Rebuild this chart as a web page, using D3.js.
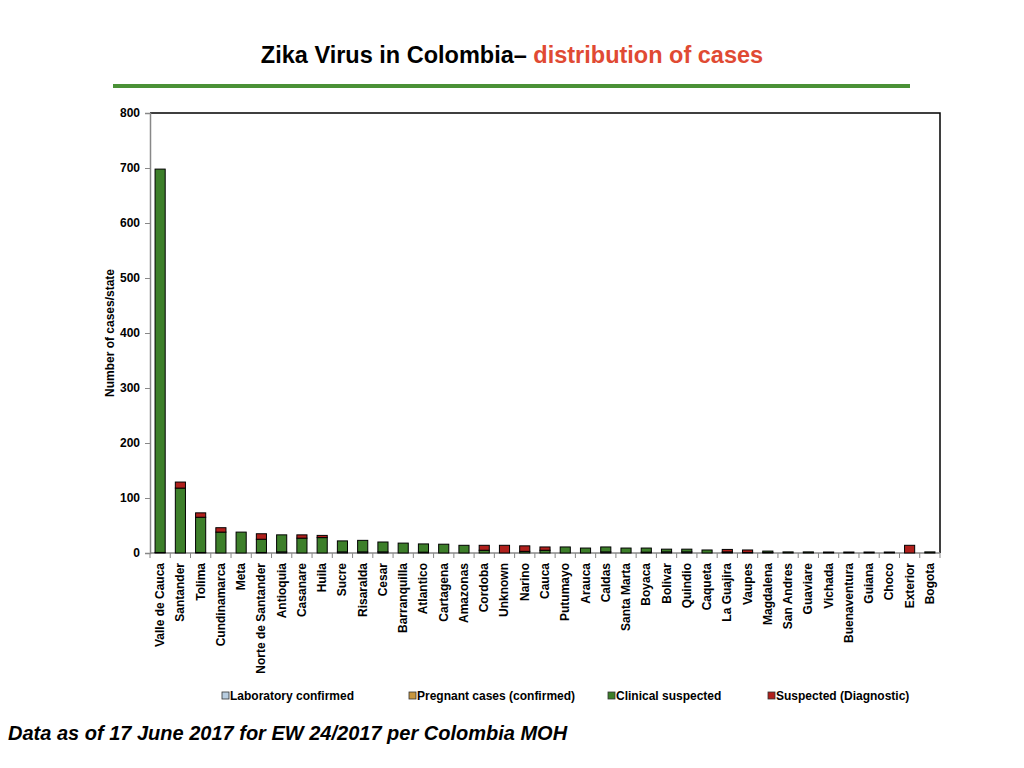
<!DOCTYPE html>
<html>
<head>
<meta charset="utf-8">
<script src="https://cdn.jsdelivr.net/npm/d3@7"></script>
<style>
  body { margin: 0; background: #fff; }
  svg text { font-family: "Liberation Sans", Arial, sans-serif; font-weight: bold; }
</style>
</head>
<body>
<div id="chart"></div>
<script>
// states along the x axis
const states = ["Valle de Cauca", "Santander", "Tolima", "Cundinamarca", "Meta", "Norte de Santander",
  "Antioquia", "Casanare", "Huila", "Sucre", "Risaralda", "Cesar", "Barranquilla", "Atlantico",
  "Cartagena", "Amazonas", "Cordoba", "Unknown", "Narino", "Cauca", "Putumayo", "Arauca", "Caldas",
  "Santa Marta", "Boyaca", "Bolivar", "Quindio", "Caqueta", "La Guajira", "Vaupes", "Magdalena",
  "San Andres", "Guaviare", "Vichada", "Buenaventura", "Guiana", "Choco", "Exterior", "Bogota"];

// series values
const labConfirmed = [1, 0, 1, 0, 0, 1, 2, 0, 0, 2, 2, 2, 0, 1.5, 0, 0, 0, 0, 0, 0, 0, 0, 2,
  0, 1.5, 2, 2, 0, 1, 0, 1, 0, 0, 0, 0, 0, 0, 0, 0];
const pregnant = [0, 0, 0, 0, 0, 0, 0, 0, 0, 0, 0, 0, 0, 0, 0, 0, 0, 0, 0, 0, 0, 0, 0,
  0, 0, 0, 0, 0, 0, 0, 0, 0, 0, 0, 0, 0, 0, 0, 0];
const clinical = [697, 118, 64, 38, 38, 24, 31, 27, 28, 20, 21, 18, 18, 15, 16, 14, 5, 0, 3, 5, 11, 9, 9,
  9, 7.5, 5, 5, 5.5, 1, 1, 2.5, 2, 2, 1.8, 1.8, 1.8, 1.8, 0, 2];
const suspectedDx = [0, 11, 8, 8, 0, 10, 0, 6, 4, 0, 0, 0, 0, 0, 0, 0, 9, 14, 10, 6, 0, 0, 0,
  0, 0, 0, 0, 0, 4.5, 4.5, 0, 0, 0, 0, 0, 0, 0, 14, 0];

const seriesNames = ["Laboratory confirmed", "Pregnant cases (confirmed)", "Clinical suspected", "Suspected (Diagnostic)"];
const seriesColors = ["#b8cde0", "#c8963e", "#3d7f2a", "#b0201c"];
const yTicks = [0, 100, 200, 300, 400, 500, 600, 700, 800];

const width = 1024, height = 768;
const margin = { left: 150, right: 84, top: 113, bottom: 215 };

const svg = d3.select("#chart").append("svg")
  .attr("width", width)
  .attr("height", height);

// title
const title = svg.append("text")
  .attr("x", 512)
  .attr("y", 63)
  .attr("text-anchor", "middle")
  .style("font-size", "23.5px");
title.append("tspan").attr("fill", "#000").text("Zika Virus in Colombia\u2013 ");
title.append("tspan").attr("fill", "#e04a33").text("distribution of cases");

svg.append("rect")
  .attr("x", 113).attr("y", 84)
  .attr("width", 797).attr("height", 4)
  .attr("fill", "#4a9136");

// stacked table
const table = states.map((s, i) => ({
  state: s,
  lab: labConfirmed[i],
  preg: pregnant[i],
  clin: clinical[i],
  dx: suspectedDx[i]
}));
const keys = ["lab", "preg", "clin", "dx"];
const stacked = d3.stack().keys(keys)(table);

const x = d3.scaleBand()
  .domain(states)
  .range([margin.left, width - margin.right])
  .paddingInner(0.5)
  .paddingOuter(0.25);

const y = d3.scaleLinear()
  .domain([0, 800])
  .range([height - margin.bottom, margin.top]);

// frame top and right
svg.append("path")
  .attr("d", `M${margin.left},${margin.top}H${width - margin.right}V${height - margin.bottom}`)
  .attr("fill", "none")
  .attr("stroke", "#000")
  .attr("stroke-width", 1.5);

// y axis
const yAxis = svg.append("g")
  .attr("transform", `translate(${margin.left},0)`)
  .call(d3.axisLeft(y).tickValues(yTicks).tickSize(5).tickPadding(5).tickFormat(d3.format("d")));
yAxis.select(".domain").attr("stroke", "#888").attr("stroke-width", 1.5);
yAxis.selectAll(".tick line").attr("stroke", "#888");
yAxis.selectAll("text").style("font-size", "12px").attr("fill", "#000");

svg.append("text")
  .attr("transform", `translate(114,${(margin.top + height - margin.bottom) / 2}) rotate(-90)`)
  .attr("text-anchor", "middle")
  .style("font-size", "12px")
  .text("Number of cases/state");

// x axis: ticks at the band edges
const xAxisG = svg.append("g")
  .attr("transform", `translate(0,${height - margin.bottom})`);
xAxisG.append("line")
  .attr("x1", margin.left).attr("x2", width - margin.right)
  .attr("stroke", "#888").attr("stroke-width", 1.5);
const step = x.step();
xAxisG.selectAll(".xtick")
  .data(d3.range(states.length + 1))
  .enter().append("line")
  .attr("x1", i => margin.left + i * step)
  .attr("x2", i => margin.left + i * step)
  .attr("y1", 0).attr("y2", 5)
  .attr("stroke", "#888");
xAxisG.selectAll(".xlabel")
  .data(states)
  .enter().append("text")
  .attr("transform", d => `translate(${x(d) + x.bandwidth() / 2 + 4},10) rotate(-90)`)
  .attr("text-anchor", "end")
  .style("font-size", "12px")
  .text(d => d);

// bars
svg.append("g")
  .selectAll("g")
  .data(stacked)
  .enter().append("g")
  .attr("fill", (d, i) => seriesColors[i])
  .selectAll("rect")
  .data(d => d.filter(p => p[1] - p[0] > 0))
  .enter().append("rect")
  .attr("x", d => x(d.data.state))
  .attr("y", d => y(d[1]))
  .attr("width", x.bandwidth())
  .attr("height", d => y(d[0]) - y(d[1]))
  .attr("stroke", "#000")
  .attr("stroke-width", 1);

// legend
const legendX = [222, 409, 608, 768];
const legend = svg.append("g");
seriesNames.forEach((name, i) => {
  legend.append("rect")
    .attr("x", legendX[i]).attr("y", 692)
    .attr("width", 7).attr("height", 7)
    .attr("fill", seriesColors[i])
    .attr("stroke", "#333").attr("stroke-width", 0.8);
  legend.append("text")
    .attr("x", legendX[i] + 8).attr("y", 700)
    .style("font-size", "12px")
    .text(name);
});

// footer
svg.append("text")
  .attr("x", 8).attr("y", 740)
  .style("font-size", "20px")
  .style("font-style", "italic")
  .text("Data as of 17 June 2017 for EW 24/2017 per Colombia MOH");
</script>
</body>
</html>
